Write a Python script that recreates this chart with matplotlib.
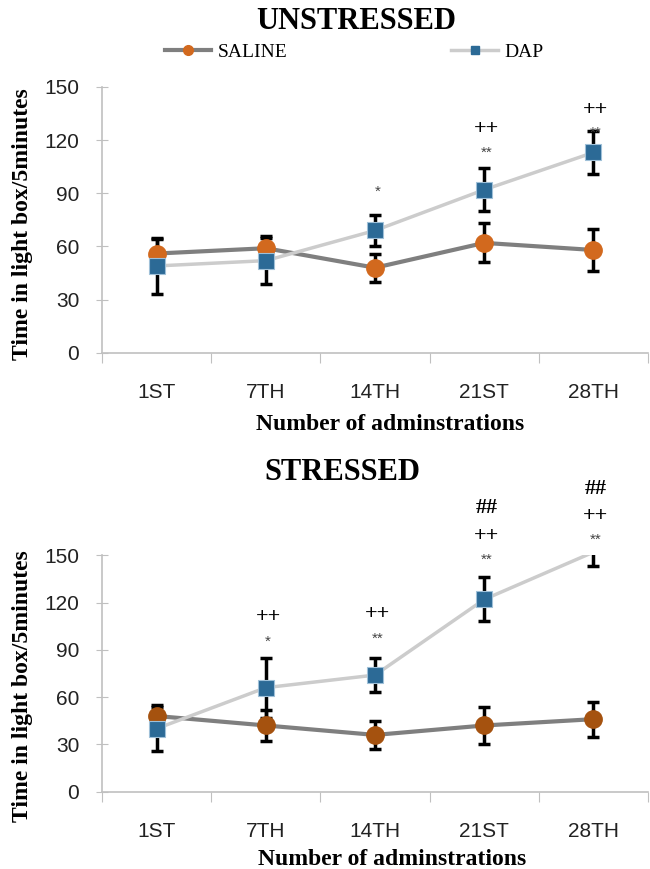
import matplotlib
matplotlib.use('Agg')
import matplotlib.pyplot as plt
import numpy as np
from matplotlib.lines import Line2D

# data
days = ['1ST', '7TH', '14TH', '21ST', '28TH']

unst_saline = [56, 59, 48, 62, 58]
unst_saline_err = [8, 7, 8, 11, 12]
unst_dap = [49, 52, 69, 92, 113]
unst_dap_err = [16, 13, 9, 12, 12]

str_saline = [48, 42, 36, 42, 46]
str_saline_err = [7, 10, 9, 12, 11]
str_dap = [40, 66, 74, 122, 152]
str_dap_err = [14, 19, 11, 14, 9]

# significance marks: (category index, y value, text)
unst_marks = [(2, 91, '*'), (3, 113, '**'), (3, 126, '++'),
              (4, 124, '**'), (4, 137, '++')]
str_marks = [(1, 95, '*'), (1, 111, '++'), (2, 97, '**'), (2, 113, '++'),
             (3, 147, '**'), (3, 162, '++'), (3, 180, '##'),
             (4, 160, '**'), (4, 175, '++'), (4, 192, '##')]

serif = ['Liberation Serif', 'DejaVu Serif']
sans = ['Liberation Sans', 'DejaVu Sans']

saline_line = '#7f7f7f'
dap_line = '#cccccc'
dap_marker = '#2c6a96'
axis_col = '#c0c0c0'
YMAX = 150

fig = plt.figure(figsize=(6.5, 8.69), dpi=100)
ax1 = fig.add_axes([0.157, 0.594, 0.840, 0.306])
ax2 = fig.add_axes([0.157, 0.089, 0.840, 0.272])


def draw(ax, sal, sal_err, dap, dap_err, marks, circ_col):
    x = list(range(len(days)))
    ax.plot(x, sal, color=saline_line, lw=3, zorder=2)
    ax.plot(x, dap, color=dap_line, lw=2.5, zorder=2)
    ax.errorbar(x, sal, yerr=sal_err, fmt='none', ecolor='black',
                elinewidth=2.5, capsize=4.5, capthick=2.5, zorder=3)
    ax.errorbar(x, dap, yerr=dap_err, fmt='none', ecolor='black',
                elinewidth=2.5, capsize=4.5, capthick=2.5, zorder=3)
    # markers above the axis maximum are not shown (as in the original)
    dap_shown = np.ma.masked_greater(np.array(dap, dtype=float), YMAX)
    ax.plot(x, sal, 'o', color=circ_col, ms=12.5, mec=circ_col, zorder=4)
    ax.plot(x, dap_shown, 's', color=dap_marker, ms=12, mec='#9fc0d8', mew=0.8, zorder=5)

    for i, yv, t in marks:
        if t == '**' or t == '*':
            ax.text(i + 0.02, yv, t, ha='center', va='center', fontsize=11,
                    color='#444444', family=sans, clip_on=False)
        else:
            ax.text(i + 0.02, yv, t, ha='center', va='center', fontsize=16,
                    fontweight='bold', color='black', family=serif, clip_on=False)

    ax.set_xlim(-0.5, 4.5)
    ax.set_ylim(0, YMAX)
    ax.set_yticks([0, 30, 60, 90, 120, 150])
    ax.set_xticks([-0.5, 0.5, 1.5, 2.5, 3.5, 4.5])
    ax.set_xticklabels([])
    ax.set_xticks(x, minor=True)
    ax.set_xticklabels(days, minor=True, family=sans, fontsize=15, color='#222222')
    ax.tick_params(axis='x', which='major', length=7, color=axis_col, direction='out')
    ax.tick_params(axis='x', which='minor', length=0, pad=22)
    ax.tick_params(axis='y', length=9, color=axis_col, direction='inout', pad=12)
    for lab in ax.get_yticklabels():
        lab.set_family(sans)
        lab.set_fontsize(15)
        lab.set_color('#222222')
    for s in ['top', 'right']:
        ax.spines[s].set_visible(False)
    for s in ['left', 'bottom']:
        ax.spines[s].set_color(axis_col)
        ax.spines[s].set_linewidth(1.2)


draw(ax1, unst_saline, unst_saline_err, unst_dap, unst_dap_err, unst_marks, '#d2691e')
draw(ax2, str_saline, str_saline_err, str_dap, str_dap_err, str_marks, '#a5520f')

title_kw = dict(ha='center', va='center', family=serif, fontweight='bold', fontsize=22)
fig.text(0.548, 0.975, 'UNSTRESSED', **title_kw)
fig.text(0.526, 0.456, 'STRESSED', **title_kw)

lab_kw = dict(ha='center', va='center', family=serif, fontweight='bold', fontsize=17)
fig.text(0.034, 0.742, 'Time in light box/5minutes', rotation=90, **lab_kw)
fig.text(0.035, 0.211, 'Time in light box/5minutes', rotation=90, **lab_kw)
fig.text(0.600, 0.512, 'Number of adminstrations', **lab_kw)
fig.text(0.603, 0.011, 'Number of adminstrations', **lab_kw)

handles = [Line2D([], [], color=saline_line, lw=3, marker='o', ms=7, mfc='#d2691e', mec='#d2691e'),
           Line2D([], [], color=dap_line, lw=2.5, marker='s', ms=6, mfc=dap_marker, mec=dap_marker)]
fig.legend(handles, ['SALINE', 'DAP'], loc='center', bbox_to_anchor=(0.545, 0.940),
           ncol=2, frameon=False, columnspacing=8.4, handlelength=2.4, handletextpad=0.35,
           prop={'family': serif, 'size': 14})

plt.savefig('out.png', dpi=100)
